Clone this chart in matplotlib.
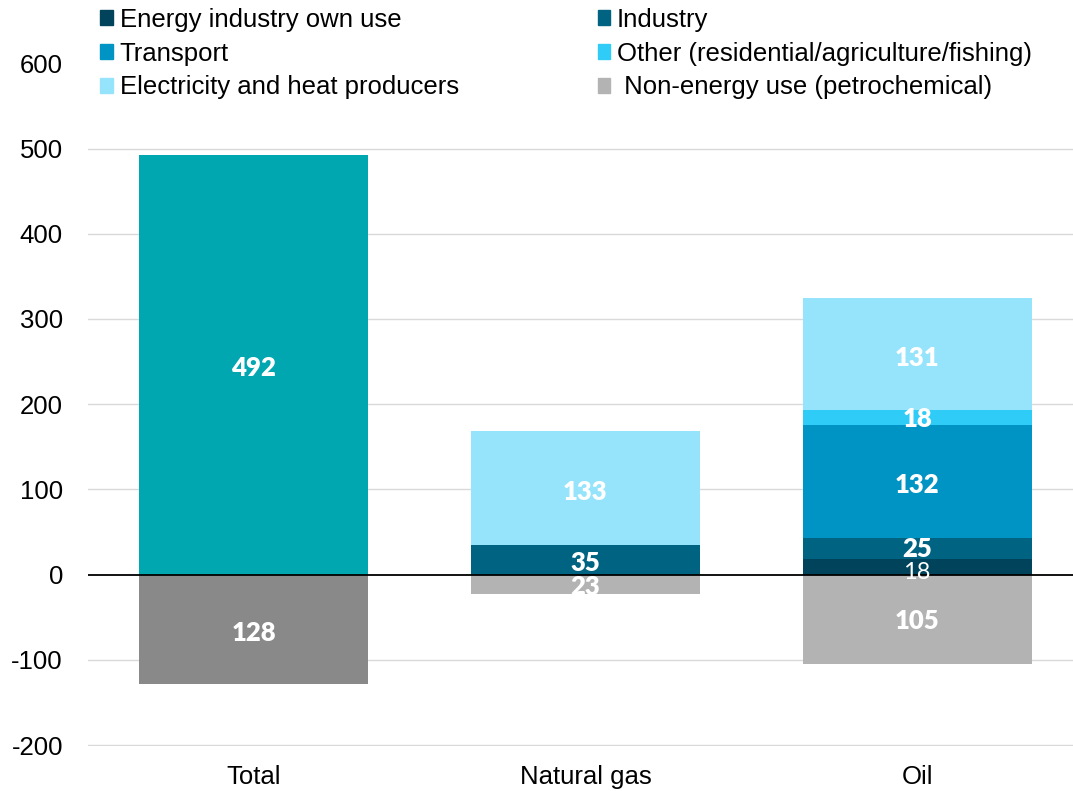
import matplotlib.pyplot as plt
from matplotlib.patches import Patch

plt.rcParams['font.family'] = ['Liberation Sans', 'DejaVu Sans']
plt.rcParams['axes.unicode_minus'] = False

categories = ["Total", "Natural gas", "Oil"]

# positive stacks (bottom to top)
series_names = ["Energy industry own use", "Industry", "Transport",
                "Other (residential/agriculture/fishing)", "Electricity and heat producers"]
series_colors = ["#00435B", "#006382", "#0094C4", "#2ECCF6", "#96E4FC"]
own_use = [0, 0, 18]
industry = [0, 35, 25]
transport = [0, 0, 132]
other = [0, 0, 18]
electricity = [0, 133, 131]
stack_values = [own_use, industry, transport, other, electricity]

# negative part
non_energy = [0, -23, -105]
non_energy_name = " Non-energy use (petrochemical)"

# totals
total_pos = 492
total_neg = -128

fig = plt.figure(figsize=(10.73, 7.91), dpi=100)
ax = fig.add_axes([0.082, 0.057, 0.918, 0.863])

x = list(range(len(categories)))
w = 0.69
dy = -4  # labels sit a touch below centre

label_kw = dict(ha="center", va="center", color="white", fontsize=18.5,
                fontweight="heavy", family=["Lato", "DejaVu Sans"])

# Total bar
ax.bar(0, total_pos, width=w, color="#00A7B1", zorder=2)
ax.bar(0, total_neg, width=w, color="#898989", zorder=2)
ax.text(0, total_pos / 2 + dy, str(total_pos), **label_kw)
ax.text(0, total_neg / 2 + dy, str(-total_neg), **label_kw)

# stacked bars
for i in range(1, 3):
    bottom = 0
    for vals, col in zip(stack_values, series_colors):
        v = vals[i]
        if v:
            ax.bar(i, v, bottom=bottom, width=w, color=col, zorder=2)
            kw = dict(label_kw)
            if v < 20 and bottom == 0:
                # thin bottom segment: small, regular-weight label
                kw["fontweight"] = "normal"
                kw["fontsize"] = 17
                ax.text(i, bottom + v / 2 - 6, str(v), zorder=4, **kw)
            elif v < 30:
                ax.text(i, bottom + v / 2 - 1, str(v), zorder=4, **kw)
            else:
                ax.text(i, bottom + v / 2 + dy, str(v), zorder=4, **kw)
            bottom += v
    ax.bar(i, non_energy[i], width=w, color="#B3B3B3", zorder=2)
    ax.text(i, non_energy[i] / 2 - (1 if non_energy[i] > -30 else 0) + dy / 2,
            str(-non_energy[i]), **label_kw)

ax.set_xlim(-0.5, 2.47)
ax.set_ylim(-201, 600)
ax.set_yticks(range(-200, 601, 100))
ax.set_xticks(x)
ax.set_xticklabels(categories)
ax.tick_params(axis="both", length=0, labelsize=18.5, colors="black")
ax.tick_params(axis="y", pad=18)
ax.tick_params(axis="x", pad=14)
for y in range(-200, 601, 100):
    if y != 0 and y != 600:
        ax.axhline(y, color="#D9D9D9", linewidth=1, zorder=0)
ax.axhline(0, color="black", linewidth=1.3, zorder=3)
for s in ax.spines.values():
    s.set_visible(False)

# legend (row-major order in the picture)
handles = {n: Patch(color=c) for n, c in zip(series_names, series_colors)}
handles[non_energy_name] = Patch(color="#B3B3B3")
order = [series_names[0], series_names[2], series_names[4],
         series_names[1], series_names[3], non_energy_name]
fig.legend([handles[n] for n in order], order, loc="upper left",
           bbox_to_anchor=(0.084, 1.003), ncol=2, frameon=False, fontsize=18.5,
           handlelength=0.5, handleheight=0.5, handletextpad=0.25,
           columnspacing=5.4, labelspacing=0.38, borderaxespad=0)

fig.savefig("out.png", dpi=100)
